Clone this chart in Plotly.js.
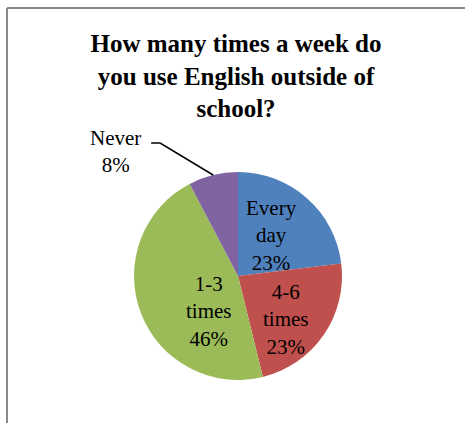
<!DOCTYPE html>
<html>
<head>
<meta charset="utf-8">
<script src="https://cdn.plot.ly/plotly-3.0.1.min.js"></script>
<style>html,body{margin:0;padding:0;background:#fff;}#chart{width:465px;height:423px;}</style>
</head>
<body>
<div id="chart"></div>
<script>
// ---- data ----
const categories = ['Every day', '4-6 times', '1-3 times', 'Never'];
const labelLines = ['Every<br>day', '4-6<br>times', '1-3<br>times', 'Never'];
const counts = [3, 3, 6, 1];
const colors = ['#4F81BD', '#C0504D', '#9BBB59', '#8064A2'];
const titleText = 'How many times a week do<br>you use English outside of<br>school?';

// ---- layout config ----
const W = 465, H = 423;
const domX = [0.2882, 0.7355];
const domY = [0.1017, 0.5934];
// per-label placement tweak: angle offset (deg) from slice mid-angle and radius fraction
const placement = [
  {dA: -1.8, r: 0.51},
  {dA: 7.9, r: 0.626},
  {dA: -30.3, r: 0.444},
  null
];

const total = counts.reduce((a, b) => a + b, 0);
const pct = counts.map(v => Math.round(v / total * 100) + '%');

const cxPx = (domX[0] + domX[1]) / 2 * W;
const cyPx = (1 - (domY[0] + domY[1]) / 2) * H;
const R = Math.min((domX[1] - domX[0]) * W, (domY[1] - domY[0]) * H) / 2;

function pt(angleDeg, rr) {
  const a = angleDeg * Math.PI / 180;
  return [cxPx + rr * Math.sin(a), cyPx - rr * Math.cos(a)];
}
function toPaper(p) { return [p[0] / W, 1 - p[1] / H]; }

const annotations = [];
const shapes = [];
let cum = 0;
counts.forEach((v, i) => {
  const a0 = cum / total * 360;
  cum += v;
  const a1 = cum / total * 360;
  const mid = (a0 + a1) / 2;
  const lblFont = {family: 'Liberation Serif, Times New Roman, serif', size: 21, color: '#000'};
  if (placement[i]) {
    const p = toPaper(pt(mid + placement[i].dA, placement[i].r * R));
    annotations.push({x: p[0], y: p[1], xref: 'paper', yref: 'paper', showarrow: false,
      text: labelLines[i] + '<br>' + pct[i], font: lblFont, align: 'center',
      xanchor: 'center', yanchor: 'middle'});
  } else {
    // outside label with leader line
    const edge = pt(mid, R);
    const lblCenter = [edge[0] - 98, edge[1] - 24];
    const elbow = [edge[0] - 53, edge[1] - 32];
    const start = [edge[0] - 62, edge[1] - 32];
    const lp = toPaper(lblCenter);
    annotations.push({x: lp[0], y: lp[1], xref: 'paper', yref: 'paper', showarrow: false,
      text: labelLines[i] + '<br>' + pct[i], font: lblFont, align: 'center',
      xanchor: 'center', yanchor: 'middle'});
    const s = toPaper(start), e = toPaper(elbow), d = toPaper(edge);
    shapes.push({type: 'path', xref: 'paper', yref: 'paper',
      path: `M ${s[0]} ${s[1]} L ${e[0]} ${e[1]} L ${d[0]} ${d[1]}`,
      line: {color: '#000', width: 1.5}});
  }
});

// chart border (top and left)
shapes.push({type: 'line', xref: 'paper', yref: 'paper', x0: 7/W, x1: 1, y0: 1 - 8/H, y1: 1 - 8/H,
  line: {color: '#8a8a8a', width: 2}});
shapes.push({type: 'line', xref: 'paper', yref: 'paper', x0: 7/W, x1: 7/W, y0: 0, y1: 1 - 8/H,
  line: {color: '#8a8a8a', width: 2}});

const trace = {
  type: 'pie',
  labels: categories,
  values: counts,
  sort: false,
  direction: 'clockwise',
  rotation: 0,
  marker: {colors: colors, line: {width: 0}},
  textinfo: 'none',
  hoverinfo: 'label+percent',
  domain: {x: domX, y: domY},
  showlegend: false
};

const layout = {
  width: W, height: H,
  margin: {l: 0, r: 0, t: 0, b: 0},
  paper_bgcolor: '#fff',
  showlegend: false,
  title: {
    text: titleText,
    x: 236 / W, xanchor: 'center',
    y: 1 - 52 / H, yanchor: 'middle', yref: 'container',
    font: {family: 'Liberation Serif, Times New Roman, serif', size: 25, weight: 'bold', color: '#000'}
  },
  annotations: annotations,
  shapes: shapes
};

Plotly.newPlot('chart', [trace], layout, {displayModeBar: false, staticPlot: true});
</script>
</body>
</html>
